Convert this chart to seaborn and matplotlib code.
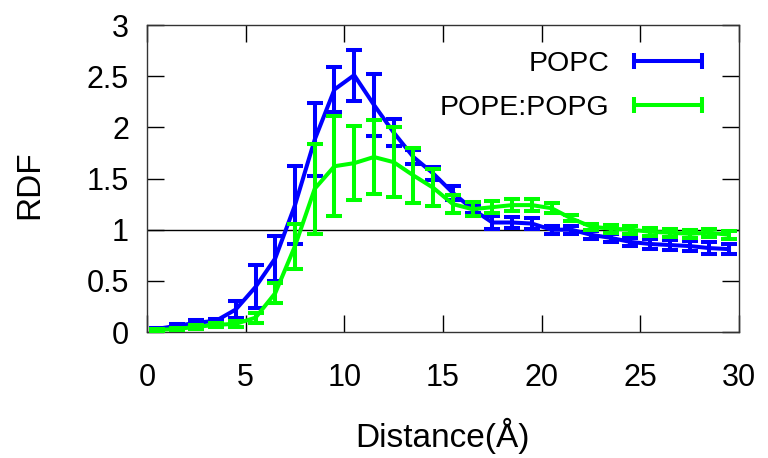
import numpy as np
import matplotlib
matplotlib.use('Agg')
import matplotlib.pyplot as plt
import seaborn as sns
from matplotlib.lines import Line2D

# dados
distancia = np.arange(0.5, 30, 1.0)
popc = [0.03, 0.06, 0.09, 0.11, 0.22, 0.44, 0.72, 1.24, 1.88, 2.37,
        2.51, 2.22, 1.95, 1.71, 1.55, 1.36, 1.20, 1.07, 1.07, 1.06,
        1.00, 1.00, 0.95, 0.92, 0.88, 0.86, 0.85, 0.84, 0.82, 0.81]
popc_err = [0.01, 0.02, 0.03, 0.02, 0.08, 0.21, 0.22, 0.38, 0.36, 0.22,
            0.25, 0.30, 0.13, 0.07, 0.06, 0.07, 0.04, 0.06, 0.05, 0.05,
            0.04, 0.04, 0.04, 0.04, 0.04, 0.05, 0.05, 0.05, 0.06, 0.05]
pope = [0.02, 0.03, 0.05, 0.07, 0.08, 0.14, 0.38, 0.84, 1.40, 1.62,
        1.65, 1.71, 1.66, 1.53, 1.41, 1.25, 1.20, 1.22, 1.24, 1.24,
        1.21, 1.11, 1.03, 1.01, 1.00, 0.98, 0.97, 0.96, 0.97, 0.95]
pope_err = [0.01, 0.01, 0.02, 0.02, 0.03, 0.05, 0.10, 0.22, 0.44, 0.49,
            0.36, 0.36, 0.34, 0.27, 0.18, 0.09, 0.07, 0.06, 0.06, 0.06,
            0.05, 0.03, 0.03, 0.04, 0.04, 0.04, 0.04, 0.04, 0.04, 0.04]
series = [('POPC', popc, popc_err, '#0000ff'),
          ('POPE:POPG', pope, pope_err, '#00ff00')]

sns.set_style('ticks')
plt.rcParams['font.family'] = ['Liberation Sans', 'DejaVu Sans']
plt.rcParams['text.color'] = 'black'
plt.rcParams['axes.labelcolor'] = 'black'
plt.rcParams['xtick.color'] = 'black'
plt.rcParams['ytick.color'] = 'black'

fig = plt.figure(figsize=(7.68, 4.58), dpi=100)
ax = fig.add_axes([0.1914, 0.2751, 0.7708, 0.6703])

ax.axhline(1, color='black', lw=1, zorder=1)

lw = 2.9
handles = []
for nome, y, err, cor in series:
    sns.lineplot(x=distancia, y=y, color=cor, lw=lw, ax=ax, zorder=3)
    ax.errorbar(distancia, y, yerr=err, fmt='none', ecolor=cor,
                elinewidth=lw, capsize=6, capthick=lw, zorder=3)
    handles.append(Line2D([], [], color=cor, lw=lw, marker='|',
                          markersize=12, mew=lw))

ax.set_xlim(0, 30)
ax.set_ylim(0, 3)
ax.set_xticks(range(0, 31, 5))
ax.set_yticks([0, 0.5, 1, 1.5, 2, 2.5, 3])
ax.set_yticklabels(['0', '0.5', '1', '1.5', '2', '2.5', '3'])
ax.tick_params(direction='in', length=12, width=1, labelsize=22,
               top=True, right=True)
ax.tick_params(axis='x', pad=22)
ax.tick_params(axis='y', pad=13)
for s in ax.spines.values():
    s.set_linewidth(1)
    s.set_color('#333333')

ax.set_xlabel('Distance(Å)', fontsize=24)
ax.set_ylabel('RDF', fontsize=24)
ax.xaxis.set_label_coords(0.5, -0.28)
ax.yaxis.set_label_coords(-0.172, 0.48)

ax.legend(handles, [s[0] for s in series], loc='upper right',
          bbox_to_anchor=(0.952, 0.915), frameon=False, fontsize=20.5,
          markerfirst=False, numpoints=2, handlelength=3.0,
          labelspacing=0.63, handletextpad=0.56, borderpad=0,
          borderaxespad=0)

plt.savefig('out.png', dpi=100)
